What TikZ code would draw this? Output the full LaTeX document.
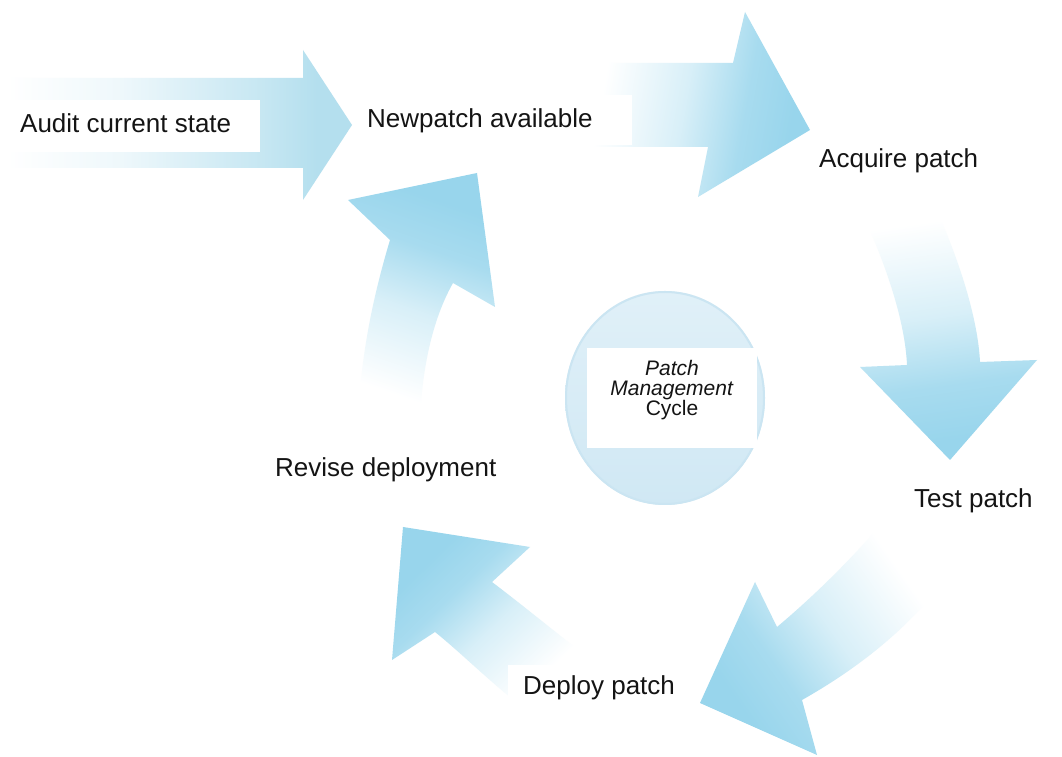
\documentclass[tikz,border=0pt]{standalone}
\usepackage{fontspec}
\setmainfont{Liberation Sans}
\definecolor{ablue}{RGB}{152,213,236}
\definecolor{sblue}{RGB}{180,223,238}
\definecolor{circA}{RGB}{224,240,248}
\definecolor{circB}{RGB}{208,232,244}
\definecolor{circRim}{RGB}{203,229,242}
\pgfdeclareverticalshading{arrfade}{100bp}{color(0bp)=(white); color(28bp)=(white); color(47bp)=(ablue!38!white); color(61bp)=(ablue!85!white); color(72bp)=(ablue); color(100bp)=(ablue)}
\pgfdeclareverticalshading{straightfade}{100bp}{color(0bp)=(white); color(26bp)=(white); color(42bp)=(sblue!22!white); color(62bp)=(sblue!75!white); color(70bp)=(sblue); color(100bp)=(sblue)}
\begin{document}
\begin{tikzpicture}[x=1pt,y=1pt,
  lbl/.style={anchor=base west,inner sep=0pt,font=\fontsize{26}{30}\selectfont,text=black!92},
  whitebox/.style={fill=white}]
\useasboundingbox (0,0) rectangle (1062,757);
\fill[white] (0,0) rectangle (1062,757);

% straight arrow (audit -> new patch)
\shade[shading=straightfade, shading angle=-90]
  (0,679) -- (303,679) -- (303,707) -- (352,632) -- (303,557) -- (303,589) -- (0,589) -- cycle;

% top arrow (new patch -> acquire)
\shade[shading=arrfade, shading angle=-100]
  (585,694) -- (733,694) -- (745,745) -- (810,627) -- (698,560) -- (708,610) -- (585,610) -- cycle;

% right arrow (acquire -> test)
\shade[shading=arrfade, shading angle=-172]
  (856,557) .. controls (885,497) and (905,437) .. (907,392) -- (860,390) -- (950,297)
  -- (1037,397) -- (980,395) .. controls (978,437) and (960,497) .. (932,557) -- cycle;

% bottom-right arrow (test -> deploy)
\shade[shading=arrfade, shading angle=125]
  (700,54) -- (755,175) -- (777,130) .. controls (815,162) and (848,195) .. (878,229)
  -- (945,177) .. controls (905,125) and (855,87) .. (802,57) -- (817,2) -- cycle;

% bottom-left arrow (deploy -> revise)
\shade[shading=arrfade, shading angle=44]
  (403,230) -- (530,210) -- (492,175) .. controls (525,150) and (555,125) .. (585,102)
  -- (520,52) .. controls (490,75) and (460,105) .. (435,125) -- (392,97) -- cycle;

% left arrow (revise -> new patch)
\shade[shading=arrfade, shading angle=-19]
  (477,584) -- (348,557) -- (390,517) .. controls (372,457) and (360,397) .. (358,332)
  -- (420,337) .. controls (422,387) and (432,437) .. (453,474) -- (495,450) -- cycle;

% centre disc
\shade[top color=circA, bottom color=circB] (665,359) ellipse [x radius=100, y radius=107];
\draw[circRim, line width=2pt] (665,359) ellipse [x radius=99, y radius=106];
\fill[whitebox] (587,309) rectangle (757,409);
\node[align=center, inner sep=0pt, font=\fontsize{21}{20}\selectfont, text=black!92] (pmc) at (672,367)
  {\textit{Patch}\\\textit{Management}\\Cycle};

% label boxes and labels
\fill[whitebox] (0,605) rectangle (260,657);
\node[lbl] (audit) at (20,624) {Audit current state};
\fill[whitebox] (358,612) rectangle (632,662);
\node[lbl] (newp) at (367,629) {Newpatch available};
\node[lbl] (acq) at (819,589) {Acquire patch};
\node[lbl] (test) at (914,249) {Test patch};
\node[lbl] (rev) at (275,280) {Revise deployment};
\fill[whitebox] (508,47) rectangle (692,92);
\node[lbl] (dep) at (523,62) {Deploy patch};
\end{tikzpicture}
\end{document}
